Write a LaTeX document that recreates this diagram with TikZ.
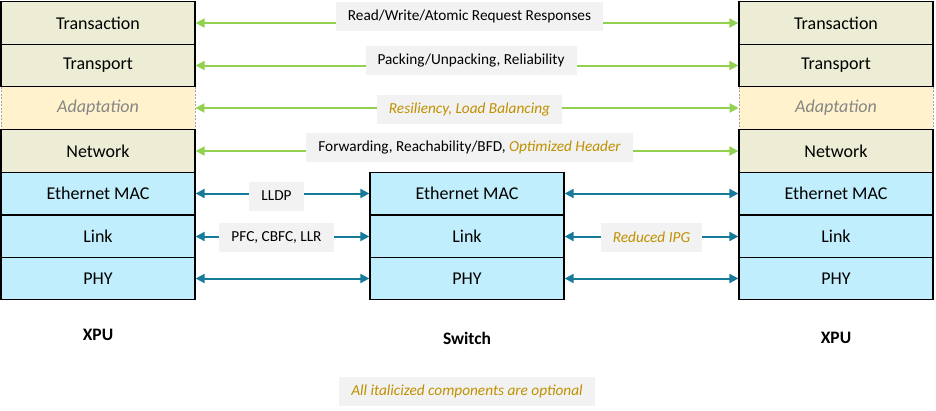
\documentclass[tikz,border=0pt]{standalone}
\usepackage{fontspec}
\setmainfont{Carlito}
\usetikzlibrary{arrows.meta}

\definecolor{stackolive}{RGB}{237,236,213}
\definecolor{stackpeach}{RGB}{255,242,204}
\definecolor{stackblue}{RGB}{193,238,252}
\definecolor{arrowgreen}{RGB}{146,208,80}
\definecolor{arrowteal}{RGB}{22,122,154}
\definecolor{optgold}{RGB}{191,144,0}
\definecolor{tagfill}{RGB}{242,242,242}
\newcommand{\opt}[1]{{\itshape\color{optgold}#1}}

\begin{document}
\begin{tikzpicture}[x=1pt, y=-1pt,
    layer/.style={draw, line width=1.3pt, minimum width=194pt, minimum height=42.6pt, inner sep=0pt, font=\fontsize{18}{21}\selectfont},
    upper/.style={layer, fill=stackolive},
    optlayer/.style={layer, fill=stackpeach, draw=gray!70, line width=0.9pt, dash pattern=on 2pt off 1.5pt, text=gray!95, font=\fontsize{18}{21}\selectfont\itshape},
    lower/.style={layer, fill=stackblue},
    tag/.style={fill=tagfill, inner xsep=12pt, inner ysep=0pt, minimum height=29pt, font=\fontsize{15.3}{18}\selectfont},
    peer/.style={line width=2pt, draw=arrowgreen, {Triangle[length=9pt,width=9pt]}-{Triangle[length=9pt,width=9pt]}},
    hop/.style={peer, draw=arrowteal},
    device/.style={font=\fontsize{17.5}{20}\selectfont\bfseries}
    ]
    \useasboundingbox (0,0) rectangle (936,410);

    % optional layers first, so the solid borders sit on top
    \node[optlayer] (lAd) at (98, 108) {Adaptation};
    \node[optlayer] (rAd) at (836, 108) {Adaptation};

    \node[upper] (lTa) at (98, 23) {Transaction};
    \node[upper] (lTp) at (98, 65.5) {Transport};
    \node[upper] (lNw) at (98, 151) {Network};
    \node[lower] (lMac) at (98, 193.5) {Ethernet MAC};
    \node[lower] (lLk) at (98, 236.5) {Link};
    \node[lower] (lPhy) at (98, 278.5) {PHY};

    \node[upper] (rTa) at (836, 23) {Transaction};
    \node[upper] (rTp) at (836, 65.5) {Transport};
    \node[upper] (rNw) at (836, 151) {Network};
    \node[lower] (rMac) at (836, 193.5) {Ethernet MAC};
    \node[lower] (rLk) at (836, 236.5) {Link};
    \node[lower] (rPhy) at (836, 278.5) {PHY};

    \node[lower] (sMac) at (467, 193.5) {Ethernet MAC};
    \node[lower] (sLk) at (467, 236.5) {Link};
    \node[lower] (sPhy) at (467, 278.5) {PHY};

    \draw[peer] (lTa.east) -- (rTa.west);
    \draw[peer] (lTp.east) -- (rTp.west);
    \draw[peer] (lAd.east) -- (rAd.west);
    \draw[peer] (lNw.east) -- (rNw.west);

    \draw[hop] (lMac.east) -- (sMac.west);
    \draw[hop] (lLk.east) -- (sLk.west);
    \draw[hop] (lPhy.east) -- (sPhy.west);
    \draw[hop] (sMac.east) -- (rMac.west);
    \draw[hop] (sLk.east) -- (rLk.west);
    \draw[hop] (sPhy.east) -- (rPhy.west);

    \node[tag] (tRw) at (469.5, 16.5) {Read/Write/Atomic Request Responses};
    \node[tag] (tPk) at (471, 60.5) {Packing/Unpacking, Reliability};
    \node[tag] (tRs) at (469.5, 109) {\opt{Resiliency, Load Balancing}};
    \node[tag] (tFw) at (469.5, 147.5) {Forwarding, Reachability/BFD, \opt{Optimized Header}};
    \node[tag] (tLl) at (276.5, 196) {LLDP};
    \node[tag] (tPf) at (276.5, 237.5) {PFC, CBFC, LLR};
    \node[tag] (tIpg) at (651.5, 237) {\opt{Reduced IPG}};

    \node[device] (xpuL) at (98, 335) {XPU};
    \node[device] (sw) at (467, 338) {Switch};
    \node[device] (xpuR) at (836, 338) {XPU};

    \node[tag] (note) at (467, 391) {\opt{All italicized components are optional}};

\end{tikzpicture}
\end{document}
